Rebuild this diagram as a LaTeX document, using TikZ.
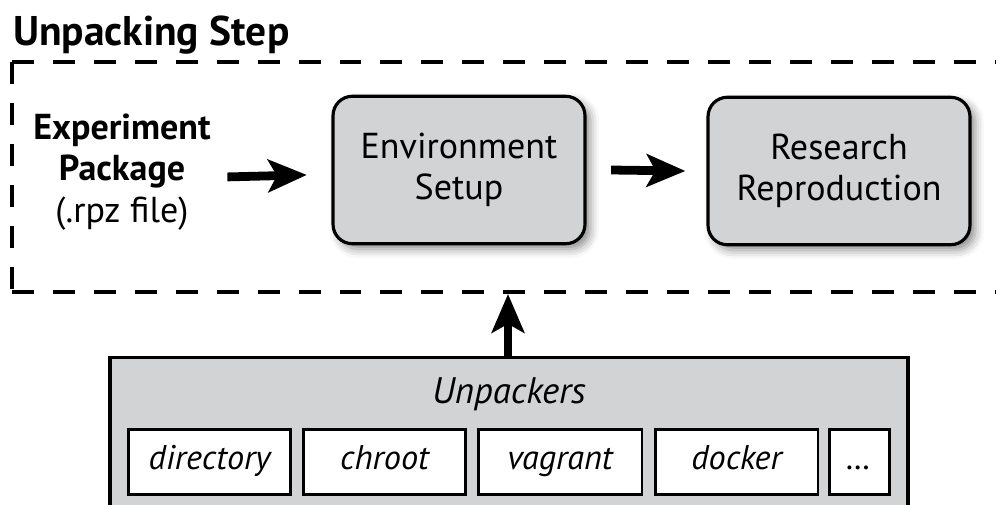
\documentclass[tikz,border=0pt]{standalone}
\usepackage{fontspec}
\setmainfont{PT Sans}
\usetikzlibrary{arrows.meta,shadows.blur}
\definecolor{boxgray}{RGB}{209,211,212}

\begin{document}
\begin{tikzpicture}[x=0.02cm,y=-0.02cm,>={Stealth[length=22pt,width=18.5pt,inset=5pt]},
  stagebox/.style={draw,line width=1.8pt,rounded corners=11pt,fill=boxgray,minimum height=2.95cm,align=center,
    font=\fontsize{20.5}{23.5}\selectfont,blur shadow={shadow xshift=3pt,shadow yshift=-3pt,shadow blur radius=5pt,shadow opacity=45}},
  toolbox/.style={draw,line width=1.7pt,fill=white,minimum height=1.3cm,inner sep=0pt,text height=13pt,text depth=4pt,
    font=\fontsize{19.5}{22}\selectfont\itshape},
  frameline/.style={line width=2.2pt,dash pattern=on 12.5pt off 10.8pt},
  thickarrow/.style={->,line width=5pt}]
  \clip (0,0) rectangle (996,504);

  \node[anchor=base west,inner sep=0pt,font=\bfseries\fontsize{23.6}{27}\selectfont] (title) at (13,45) {Unpacking Step};
  \draw[frameline] (12,62) -- (1010,62);
  \draw[frameline] (12,62) -- (12,292);
  \draw[frameline] (12,292) -- (1010,292);
  \coordinate (framebottom) at (508,294);

  \node[align=center,font=\fontsize{20.5}{23.5}\selectfont] (pkg) at (122,172) {\textbf{Experiment}\\\textbf{Package}\\(.rpz file)};
  \node[stagebox,minimum width=5.04cm] (env) at (459,170) {Environment\\Setup};
  \node[stagebox,minimum width=5.24cm] (repro) at (839,171) {Research\\Reproduction};

  \draw[thickarrow] ([xshift=6pt,yshift=-2.8pt]pkg.east) -- ([xshift=-14pt,yshift=-2.8pt]env.west);
  \draw[thickarrow] ([xshift=14pt]env.east) -- ([xshift=-12pt]repro.west);

  \node[draw,line width=1.8pt,fill=boxgray,minimum width=15.96cm,minimum height=3.3cm] (unpk) at (509,440) {};
  \node[font=\fontsize{21}{24}\selectfont\itshape] (unlabel) at (509,394) {Unpackers};
  \foreach \cx/\bw/\txt [count=\i] in {209.5/3.26/directory,384.5/3.26/chroot,560/3.28/vagrant,736.5/3.26/docker,859/1.2/\ldots} {
    \node[toolbox,minimum width=\bw cm] (tool\i) at (\cx,462) {\txt};
  }

  \draw[thickarrow] (unpk.north -| framebottom) -- (framebottom);

\end{tikzpicture}
\end{document}
